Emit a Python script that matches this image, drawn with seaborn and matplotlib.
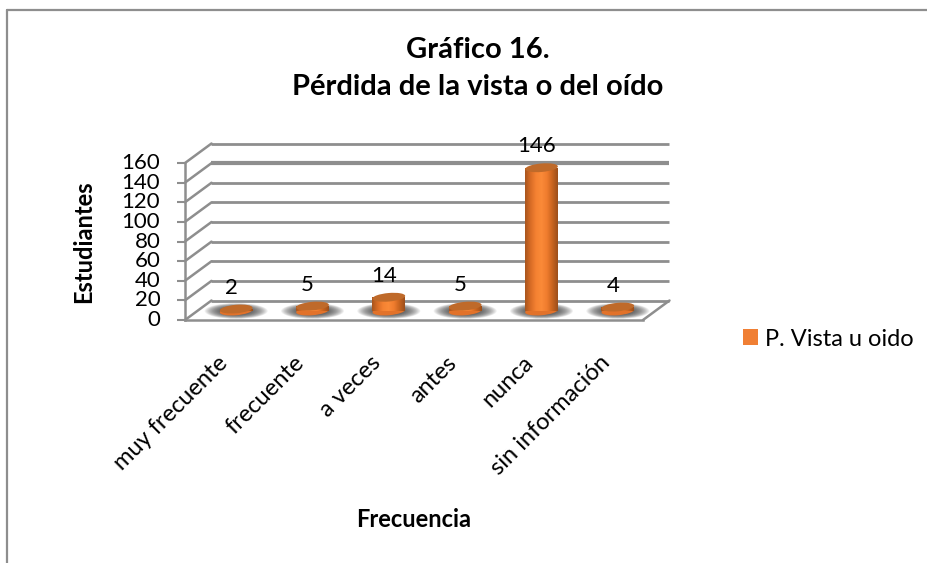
import numpy as np
import matplotlib
matplotlib.use("Agg")
import matplotlib.pyplot as plt
from matplotlib.lines import Line2D
from matplotlib.patches import Ellipse, Patch, Rectangle
from matplotlib.transforms import IdentityTransform, ScaledTranslation
from matplotlib.colors import LinearSegmentedColormap
import seaborn as sns

categories = ["muy frecuente", "frecuente", "a veces", "antes", "nunca", "sin información"]
values = [2, 5, 14, 5, 146, 4]
yticks = [0, 20, 40, 60, 80, 100, 120, 140, 160]
title_lines = ["Gráfico 16.", "Pérdida de la vista o del oído"]
xlabel = "Frecuencia"
ylabel = "Estudiantes"
series_name = "P. Vista u oido"

W, H = 928, 563
GRID = "#8e8e8e"
ORANGE = "#f58232"

sns.set_theme(style="white")
plt.rcParams["font.family"] = ["Lato", "DejaVu Sans"]

fig = plt.figure(figsize=(W / 100, H / 100), dpi=100, facecolor="white")


def box(x0, x1, ytop, ybot):
    return [x0 / W, 1 - ybot / H, (x1 - x0) / W, (ybot - ytop) / H]


# frame of the chart area (only left and top edges are visible)
fig.add_artist(Line2D([7 / W, 7 / W], [0, 1 - 10 / H], color=GRID, lw=1.6))
fig.add_artist(Line2D([7 / W, 1], [1 - 10 / H, 1 - 10 / H], color=GRID, lw=1.6))

# front plane: value axis, category axis and walls
ax = fig.add_axes(box(185, 643, 163, 320))
ax.set_xlim(-0.5, 5.5)
ax.set_ylim(0, 160)
ax.patch.set_visible(False)
depth_x = 26.5 / (458 / 6)
depth_y = 19.5 * 160 / 157
for v in yticks:
    lw = 3.0 if v == 140 else 2.0
    ax.plot([-0.5 + depth_x, 5.5 + depth_x], [v + depth_y, v + depth_y], color=GRID, lw=lw,
            clip_on=False, zorder=1, solid_capstyle="butt")
    ax.plot([-0.5, -0.5 + depth_x], [v, v + depth_y], color=GRID, lw=1.8, clip_on=False, zorder=1)
ax.plot([5.5, 5.5 + depth_x], [0, depth_y], color=GRID, lw=1.8, clip_on=False, zorder=1)
ax.set_xticks(range(len(categories)))
ax.set_xticklabels(categories, rotation=45, ha="right", va="top", rotation_mode="anchor",
                   fontsize=17, color="black")
ax.set_yticks(yticks)
ax.set_yticklabels([str(v) for v in yticks], fontsize=16, color="black")
ax.tick_params(axis="x", length=0, pad=23)
ax.tick_params(axis="y", length=5.8, width=1.5, color=GRID, pad=12, left=True)
shift = ScaledTranslation(-6 / 100, 0, fig.dpi_scale_trans)
for lab in ax.get_xticklabels():
    lab.set_transform(lab.get_transform() + shift)
for lab in ax.get_yticklabels():
    lab.set_verticalalignment("center")
for s in ["top", "right"]:
    ax.spines[s].set_visible(False)
for s in ["left", "bottom"]:
    ax.spines[s].set_color(GRID)
    ax.spines[s].set_linewidth(1.8)
ax.set_xlabel(xlabel, fontsize=17, fontweight="bold", color="black")
ax.xaxis.set_label_coords((414 - 185) / 458, -(520 - 320) / 157, transform=ax.transAxes)
ax.xaxis.label.set_verticalalignment("center")
ax.set_ylabel(ylabel, fontsize=17, fontweight="bold", color="black")
ax.yaxis.set_label_coords((84 - 185) / 458, (320 - 242) / 157, transform=ax.transAxes)
ax.yaxis.label.set_verticalalignment("center")

# mid-depth plane: the cylinders
ax2 = fig.add_axes(box(198, 656, 154, 311))
ax2.patch.set_visible(False)
sns.barplot(x=categories, y=values, color=ORANGE, saturation=1, width=0.43, ax=ax2, zorder=3,
            linewidth=0, edgecolor="none")
ax2.set_xlim(-0.5, 5.5)
ax2.set_ylim(0, 160)
ax2.axis("off")

shade = LinearSegmentedColormap.from_list(
    "cyl", ["#a9551d", "#d96d26", "#f58232", "#fb8a38", "#f07c2e", "#c9641f", "#9c4f1b"])
gradient = np.linspace(0, 1, 64).reshape(1, -1)
idt = IdentityTransform()
for i, (bar, v) in enumerate(zip(ax2.patches, values)):
    x0, w = bar.get_x(), bar.get_width()
    base = ax2.transData.transform((x0 + w / 2, 0))
    top = ax2.transData.transform((x0 + w / 2, v))
    wpx = ax2.transData.transform((x0 + w, 0))[0] - ax2.transData.transform((x0, 0))[0]
    # soft floor shadow
    for k in np.linspace(1.05, 0.35, 24):
        ax2.add_patch(Ellipse(base, 60 * k, 15 * k, angle=0, transform=idt, clip_on=False,
                              facecolor="#3c3c3c", edgecolor="none", alpha=0.07, zorder=2))
    # bottom cap
    ax2.add_patch(Ellipse(base, wpx, 8.5, angle=5, transform=idt, clip_on=False,
                          facecolor="#e2722a", edgecolor="none", zorder=2.5))
    # shading of the body
    im = ax2.imshow(gradient, cmap=shade, extent=(x0, x0 + w, 0, v), aspect="auto", zorder=3.2)
    im.set_clip_path(Rectangle((x0, 0), w, v, transform=ax2.transData))
    # top cap
    ax2.add_patch(Ellipse(top, wpx, 8.5, angle=5, transform=idt, clip_on=False,
                          facecolor="#bf6a2a", edgecolor="none", zorder=3.5))
    ax2.annotate(str(v), (i, v), xytext=(-5 * 0.72, 21.5 * 0.72), textcoords="offset points",
                 ha="center", va="center", fontsize=16, color="black", zorder=4,
                 annotation_clip=False)
ax2.set_xlim(-0.5, 5.5)
ax2.set_ylim(0, 160)

# title
fig.text(478 / W, 1 - 50 / H, title_lines[0], ha="center", va="center", fontsize=21,
         fontweight="bold", color="black")
fig.text(478 / W, 1 - 87 / H, title_lines[1], ha="center", va="center", fontsize=21,
         fontweight="bold", color="black")

# legend
fig.legend(handles=[Patch(facecolor="#f07f34", edgecolor="none", label=series_name)],
           loc="center left", bbox_to_anchor=(738.5 / W, 1 - 339 / H), frameon=False,
           fontsize=17, handlelength=0.64, handleheight=0.64, handletextpad=0.3,
           borderaxespad=0, borderpad=0.2, labelcolor="black")

fig.savefig("out.png", dpi=100, facecolor="white")
